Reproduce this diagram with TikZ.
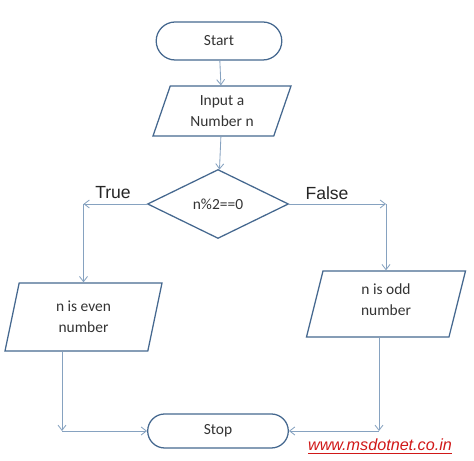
\documentclass[tikz,border=0pt]{standalone}
\usepackage{fontspec}
\setmainfont{Carlito}
\newfontfamily\arialfont{Liberation Sans}
\usetikzlibrary{shapes.geometric,shapes.misc,arrows.meta}
\definecolor{shapeblue}{HTML}{45688F}
\definecolor{arrowblue}{HTML}{86A2C0}
\definecolor{webred}{HTML}{D01818}
\tikzset{
	terminal/.style={rounded rectangle, draw=shapeblue, line width=0.9pt, minimum height=0.9cm, text=black!80, font=\fontsize{11}{13}\selectfont},
	inout/.style={trapezium, trapezium stretches body, draw=shapeblue, line width=0.9pt, inner sep=0pt, align=center, text=black!80, font=\fontsize{11}{15}\selectfont},
	decision/.style={diamond, draw=shapeblue, line width=0.9pt, inner sep=0pt, minimum width=3.525cm, minimum height=1.725cm, text=black!80, font=\fontsize{11}{13}\selectfont},
	flow/.style={draw=arrowblue, line width=0.6pt, -{Straight Barb[length=1.3mm, width=2mm]}},
	branch/.style={font=\arialfont\fontsize{12.5}{14}\selectfont, text=black!85}
}
\begin{document}
\begin{tikzpicture}
			%%%%% START %%%%%
			\useasboundingbox (0, 0) rectangle (11.85, 11.525);
			
			\node[terminal, minimum width=3.375cm, minimum height=0.95cm] (start) at (5.475, 10.5) {Start};
			\node[inout, trapezium left angle=61, trapezium right angle=119, minimum width=3.45cm, minimum height=1.25cm] (input) at (5.55, 8.75) {Input a\\Number n};
			\node[decision] (decide) at (5.45, 6.425) {n\%2==0};
			
			\node[inout, trapezium left angle=66, trapezium right angle=114, minimum width=3.925cm, minimum height=1.7cm] (even) at (2.0875, 3.6) {n is even\\number};
			\node[inout, trapezium left angle=68, trapezium right angle=112, minimum width=3.975cm, minimum height=1.65cm] (odd) at (9.65, 3.925) {n is odd\\number\\[-0.3cm]};
			
			\node[terminal, minimum width=3.75cm, minimum height=0.85cm] (stop) at (5.45, 0.75) {Stop};
			
			\node[branch] (yes) at (2.825, 6.7) {True};
			\node[branch] (no) at (8.175, 6.7) {False};
			
			\coordinate (tl) at (decide.west -| even.north);
			\coordinate (tr) at (decide.east -| odd.north);
			\coordinate (bl) at (1.55, 0.75);
			\coordinate (br) at (9.475, 0.75);
			
			\draw[flow] (start) -- (input);
			\draw[flow] (input) -- (decide);
			\draw[flow] (decide.west) -- (tl);
			\draw[flow] (tl) -- (even.north);
			\draw[flow] (decide.east) -- (tr);
			\draw[flow] (tr) -- (odd.north);
			\draw[flow] (even.south -| bl) -- (bl);
			\draw[flow] (bl) -- (stop.west);
			\draw[flow] (odd.south -| br) -- (br);
			\draw[flow] (br) -- (stop.east);
			
			\node[text=webred, font=\arialfont\itshape\fontsize{11.5}{13}\selectfont] (web) at (9.5, 0.36) {\underline{www.msdotnet.co.in}};
			%%%%% END %%%%%
\end{tikzpicture}
\end{document}
